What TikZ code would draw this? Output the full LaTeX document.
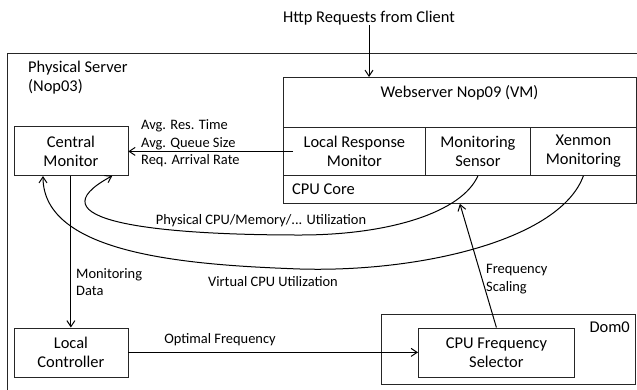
\documentclass[tikz,border=0pt]{standalone}
\usepackage{fontspec}
\setmainfont{Carlito}
\usetikzlibrary{arrows.meta,calc}
\newcommand{\bxfont}{\fontsize{16.5}{19}\selectfont}
\newcommand{\lbfont}{\fontsize{14.5}{17.6}\selectfont}
\begin{document}
\begin{tikzpicture}[x=1bp,y=-1bp,
  box/.style={draw=black!85, line width=0.8bp, inner sep=0pt, align=center, font=\bxfont},
  txt/.style={inner sep=0pt, font=\bxfont},
  lbl/.style={inner sep=0pt, font=\lbfont, align=left},
  arr/.style={-{Straight Barb[length=6bp,width=8bp]}, line width=1bp}]
\path[use as bounding box, clip] (0,0) rectangle (637,389);

% outer physical server
\node[box, anchor=north west, minimum width=680bp, minimum height=400bp] (server) at (7,53) {};
\node[txt, anchor=north west, align=left] (servername) at (28,61) {Physical Server\\(Nop03)};

% virtual machine
\node[box, anchor=north west, minimum width=353bp, minimum height=126bp] (vm) at (283,77) {};
\node[txt] (vmtitle) at (459.5,93) {Webserver Nop09 (VM)};
\node[box, anchor=north west, minimum width=142bp, minimum height=48bp] (lrm) at (283,127) {Local Response\\Monitor};
\node[box, anchor=north west, minimum width=105bp, minimum height=48bp] (ms) at (425,127) {Monitoring\\Sensor};
\node[box, anchor=north west, minimum width=106bp, minimum height=48bp] (xen) at (530,127) {Xenmon\\Monitoring};
\node[box, anchor=north west, minimum width=353bp, minimum height=28bp] (core) at (283,175) {};
\node[txt, anchor=west] (corename) at (292,189) {CPU Core};

% monitor and controller
\node[box, anchor=north west, minimum width=114bp, minimum height=49bp] (cm) at (13.5,126) {Central\\Monitor};
\node[box, anchor=north west, minimum width=114bp, minimum height=49bp] (lc) at (13.5,327.5) {Local\\Controller};

% Dom0
\node[box, anchor=north west, minimum width=254bp, minimum height=70bp] (dom0) at (381,314) {};
\node[txt, anchor=north east] (domname) at (630,322) {Dom0};
\node[box, anchor=north west, minimum width=156bp, minimum height=49bp] (cfs) at (418,327.5) {CPU Frequency\\Selector};

% incoming requests
\node[txt] (http) at (369,18) {Http Requests from Client};
\draw[arr] (http.south) -- (http.south |- vm.north);

% response statistics
\coordinate (lrmout) at ($(lrm.west)+(10,0)$);
\draw[arr] (lrmout) -- (lrmout -| cm.east);
\node[lbl, anchor=west] (stats) at (141,143.5) {Avg. Res. Time\\Avg. Queue Size\\Req. Arrival Rate};

% monitoring data
\draw[arr] (cm.south) -- (lc.north);
\node[lbl, anchor=north west] (mdata) at (76,268) {Monitoring\\Data};

% optimal frequency
\draw[arr] (lc.east) -- (cfs.west);
\node[lbl] (optf) at (220,340) {Optimal Frequency};

% frequency scaling
\draw[arr] (cfs.north) -- (vm.south);
\node[lbl, anchor=north west] (fscale) at (486,264) {Frequency\\Scaling};

% physical utilisation
\coordinate (cmin) at ($(cm.south east)+(-16,0)$);
\draw[arr] (ms.south) .. controls (462,212) and (390,235) .. (300,235)
  .. controls (150,235) and (30,220) .. (cmin);
\node[lbl] (phys) at (261,221) {Physical CPU/Memory/... Utilization};

% virtual utilisation
\coordinate (cmvin) at (43,176);
\draw[arr] (xen.south) .. controls (560,240) and (420,272.5) .. (300,269)
  .. controls (190,265) and (43,255) .. (cmvin);
\node[lbl] (virt) at (273,282) {Virtual CPU Utilization};
\end{tikzpicture}
\end{document}
